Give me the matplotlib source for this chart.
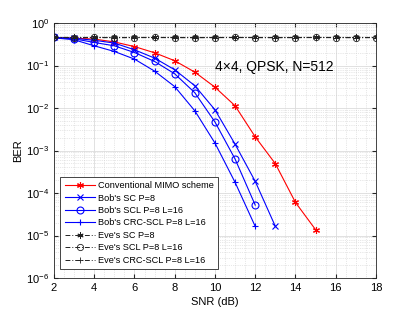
import numpy as np
import matplotlib
matplotlib.use("Agg")
import matplotlib.pyplot as plt
from matplotlib.ticker import LogLocator, MultipleLocator, NullFormatter

plt.rcParams["font.family"] = ["Liberation Sans", "DejaVu Sans"]

# data
snr_conv = [2, 3, 4, 5, 6, 7, 8, 9, 10, 11, 12, 13, 14, 15]
ber_conv = [0.46, 0.44, 0.42, 0.36, 0.28, 0.20, 0.13, 0.070, 0.031,
            0.0113, 0.0021, 4.9e-4, 6.0e-5, 1.37e-5]

snr_sc = [2, 3, 4, 5, 6, 7, 8, 9, 10, 11, 12, 13]
ber_sc = [0.458, 0.439, 0.394, 0.339, 0.235, 0.150, 0.0796, 0.0335,
          0.0091, 1.41e-3, 1.88e-4, 1.64e-5]

snr_scl = [2, 3, 4, 5, 6, 7, 8, 9, 10, 11, 12]
ber_scl = [0.458, 0.427, 0.35, 0.292, 0.203, 0.125, 0.064, 0.0229,
           4.7e-3, 6.3e-4, 5.2e-5]

snr_crc = [2, 3, 4, 5, 6, 7, 8, 9, 10, 11, 12]
ber_crc = [0.45, 0.405, 0.292, 0.215, 0.142, 0.074, 0.032, 8.6e-3,
           1.5e-3, 1.78e-4, 1.64e-5]

snr_eve = list(range(2, 19))
ber_eve_sc = [0.462, 0.460, 0.461, 0.459, 0.460, 0.461, 0.460, 0.459, 0.460,
              0.461, 0.460, 0.459, 0.460, 0.461, 0.460, 0.459, 0.460]
ber_eve_scl = [0.458, 0.457, 0.458, 0.456, 0.457, 0.458, 0.457, 0.456, 0.457,
               0.458, 0.457, 0.456, 0.457, 0.458, 0.457, 0.456, 0.457]
ber_eve_crc = [0.455, 0.454, 0.455, 0.453, 0.454, 0.455, 0.454, 0.453, 0.454,
               0.455, 0.454, 0.453, 0.454, 0.455, 0.454, 0.453, 0.454]

asterisk = (6, 2, 0)

fig = plt.figure(figsize=(4.15, 3.12), dpi=100)
ax = fig.add_axes([0.130, 0.109, 0.776, 0.817])

ax.semilogy(snr_conv, ber_conv, "-", color="red", marker=asterisk, ms=5,
            lw=0.8, mew=0.8, label="Conventional MIMO scheme")
ax.semilogy(snr_sc, ber_sc, "-", color="blue", marker="x", ms=4,
            lw=0.8, mew=0.8, label="Bob's SC P=8")
ax.semilogy(snr_scl, ber_scl, "-", color="blue", marker="o", ms=5, mfc="none",
            lw=0.8, mew=0.8, label="Bob's SCL P=8 L=16")
ax.semilogy(snr_crc, ber_crc, "-", color="blue", marker="+", ms=5,
            lw=0.8, mew=0.8, label="Bob's CRC-SCL P=8 L=16")
eve_style = dict(color="#222222", lw=0.7, mew=0.6, dashes=(5, 2, 1, 2))
ax.semilogy(snr_eve, ber_eve_sc, marker=asterisk, ms=4.5,
            label="Eve's SC P=8", **eve_style)
ax.semilogy(snr_eve, ber_eve_scl, marker="o", ms=4.5, mfc="none",
            label="Eve's SCL P=8 L=16", **eve_style)
ax.semilogy(snr_eve, ber_eve_crc, marker="+", ms=4.5,
            label="Eve's CRC-SCL P=8 L=16", **eve_style)

ax.set_xlim(2, 18)
ax.set_ylim(1e-6, 1)
ax.xaxis.set_major_locator(MultipleLocator(2))
ax.xaxis.set_minor_locator(MultipleLocator(0.5))
ax.yaxis.set_major_locator(LogLocator(base=10, numticks=10))
ax.yaxis.set_minor_locator(LogLocator(base=10, subs=np.arange(2, 10), numticks=20))
ax.yaxis.set_minor_formatter(NullFormatter())

ax.grid(True, which="major", color="#dcdcdc", lw=0.6)
ax.grid(True, which="minor", color="#d0d0d0", lw=0.5, ls=":")
ax.set_axisbelow(True)
ax.tick_params(which="both", direction="in", top=True, right=True,
               labelsize=8, color="#262626")
ax.tick_params(which="major", length=3)
ax.tick_params(which="minor", length=0)
for sp in ax.spines.values():
    sp.set_color("#262626")
    sp.set_linewidth(0.6)

ax.set_xlabel("SNR (dB)", fontsize=8, labelpad=3)
ax.set_ylabel("BER", fontsize=8, labelpad=2)

ax.text(10, 0.095, "4\u00d74, QPSK, N=512", fontsize=10, va="center", ha="left")

leg = ax.legend(loc="lower left", bbox_to_anchor=(0.02, 0.035), fontsize=6.6,
                fancybox=False, framealpha=1, edgecolor="#262626",
                borderpad=0.45, labelspacing=0.38, handlelength=3.3,
                handletextpad=0.3, borderaxespad=0)
leg.get_frame().set_linewidth(0.6)

fig.savefig("out.png", dpi=100)
